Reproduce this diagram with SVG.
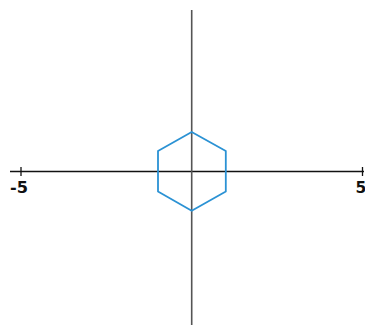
<svg xmlns="http://www.w3.org/2000/svg" width="365" height="325" viewBox="0 0 365 325">
<style>
.axis{stroke:#111;stroke-width:1.3;fill:none}
.vaxis{stroke:#555;stroke-width:1.6;fill:none}
.lbl{font-family:"DejaVu Sans","Liberation Sans",sans-serif;font-weight:bold;font-size:15.5px;fill:#111}
.hex{stroke:#2b92d4;stroke-width:1.8;fill:none;stroke-linejoin:round}
</style>
<rect width="365" height="325" fill="#fff"/>
<g id="connectors">
<line class="axis" x1="10" y1="171.5" x2="364" y2="171.5"/>
<line class="vaxis" x1="191.7" y1="10" x2="191.7" y2="325"/>
<line class="axis" x1="21" y1="167" x2="21" y2="176"/>
<line class="axis" x1="362.5" y1="167" x2="362.5" y2="176"/>
</g>
<g id="label-neg5"><text class="lbl" x="10" y="193" textLength="18" lengthAdjust="spacingAndGlyphs">-5</text></g>
<g id="label-5"><text class="lbl" x="355.5" y="193">5</text></g>
<g id="hexagon">
<polygon class="hex" points="191.7,132 225.8,151 225.8,191.5 191.7,210.8 158,191.5 158,151"/>
</g>
</svg>
